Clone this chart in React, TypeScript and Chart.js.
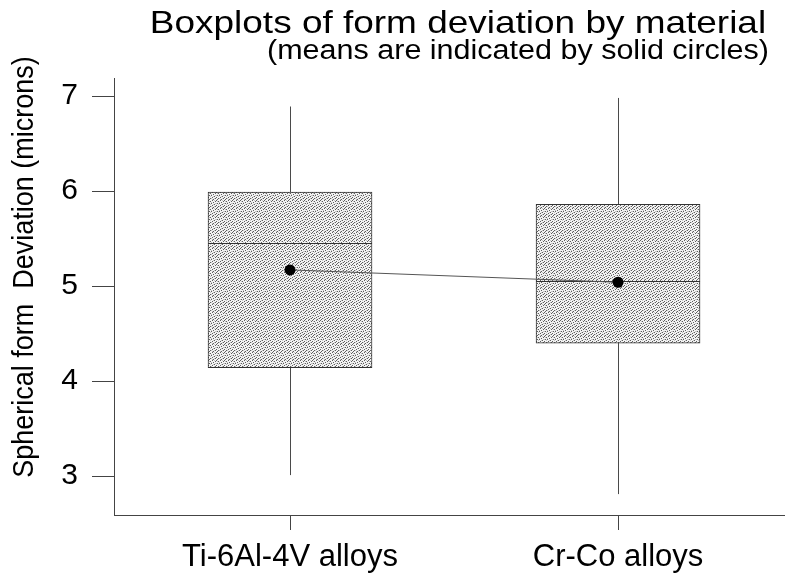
import React, { useEffect, useRef } from "react";
import { Chart, registerables } from "chart.js";

Chart.register(...registerables);

// ---- data ----
const categories = ["Ti-6Al-4V alloys", "Cr-Co alloys"];
const whiskerLow = [3.01, 2.81];
const q1 = [4.14, 4.4];
const median = [5.45, 5.05];
const q3 = [5.99, 5.86];
const whiskerHigh = [6.89, 6.98];
const means = [5.17, 5.04];
const yTicks = [3, 4, 5, 6, 7];

const titleText = "Boxplots of form deviation by material";
const subtitleText = "(means are indicated by solid circles)";
const yTitleText = "Spherical form  Deviation (microns)";

const FONT = "'Liberation Sans', Arial, sans-serif";
const AXIS = "#444444";

function makeStipple(): CanvasPattern | string {
  const n = 8;
  const c = document.createElement("canvas");
  c.width = n;
  c.height = n;
  const g = c.getContext("2d");
  if (!g) return "#d9d9d9";
  g.fillStyle = "#f4f4f4";
  g.fillRect(0, 0, n, n);
  const dark = [
    [0, 0], [4, 0], [2, 1], [7, 1], [5, 2], [1, 3], [3, 3], [6, 4],
    [0, 5], [4, 5], [2, 6], [7, 6], [5, 7], [1, 7],
  ];
  const light = [[6, 0], [1, 1], [3, 2], [0, 3], [5, 4], [2, 4], [7, 3], [3, 6], [6, 6], [4, 7]];
  g.fillStyle = "#5e5e5e";
  dark.forEach(([x, y]) => g.fillRect(x, y, 1, 1));
  g.fillStyle = "#c4c4c4";
  light.forEach(([x, y]) => g.fillRect(x, y, 1, 1));
  return g.createPattern(c, "repeat") || "#d9d9d9";
}

const boxParts = {
  id: "boxParts",
  beforeDatasetsDraw(chart: any) {
    const ctx = chart.ctx;
    const xs = chart.scales.x;
    const ys = chart.scales.y;
    ctx.save();
    ctx.strokeStyle = "#4a4a4a";
    ctx.lineWidth = 1;
    categories.forEach((_, i) => {
      const x = Math.round(xs.getPixelForValue(i + 1)) + 0.5;
      ctx.beginPath();
      ctx.moveTo(x, ys.getPixelForValue(q3[i]));
      ctx.lineTo(x, ys.getPixelForValue(whiskerHigh[i]));
      ctx.moveTo(x, ys.getPixelForValue(q1[i]));
      ctx.lineTo(x, ys.getPixelForValue(whiskerLow[i]));
      ctx.stroke();
    });
    ctx.restore();
  },
  afterDatasetDraw(chart: any, args: any) {
    if (args.index !== 0) return;
    const ctx = chart.ctx;
    const ys = chart.scales.y;
    const meta = chart.getDatasetMeta(0);
    ctx.save();
    ctx.strokeStyle = "#333333";
    ctx.lineWidth = 1;
    meta.data.forEach((bar: any, i: number) => {
      const y = Math.round(ys.getPixelForValue(median[i])) + 0.5;
      ctx.beginPath();
      ctx.moveTo(bar.x - bar.width / 2, y);
      ctx.lineTo(bar.x + bar.width / 2, y);
      ctx.stroke();
    });
    ctx.restore();
  },
};

function stretchedText(ctx: CanvasRenderingContext2D, text: string, cx: number, y: number, sx: number) {
  ctx.save();
  ctx.translate(cx, y);
  ctx.scale(sx, 1);
  ctx.fillText(text, 0, 0);
  ctx.restore();
}

const texts = {
  id: "texts",
  afterDraw(chart: any) {
    const ctx = chart.ctx;
    ctx.save();
    ctx.fillStyle = "#000000";
    ctx.textAlign = "center";
    ctx.textBaseline = "alphabetic";
    ctx.font = `32px ${FONT}`;
    stretchedText(ctx, titleText, 458, 33, 1.155);
    ctx.font = `27px ${FONT}`;
    stretchedText(ctx, subtitleText, 518, 59, 1.13);
    ctx.translate(25, 267);
    ctx.rotate(-Math.PI / 2);
    ctx.scale(1, 1.12);
    ctx.textBaseline = "middle";
    ctx.font = `27px ${FONT}`;
    ctx.fillText(yTitleText, 0, 0);
    ctx.restore();
  },
};

export default function App() {
  const ref = useRef<HTMLCanvasElement | null>(null);

  useEffect(() => {
    if (!ref.current) return;
    const stipple = makeStipple();
    const chart = new Chart(ref.current, {
      type: "bar",
      data: {
        datasets: [
          {
            type: "bar",
            data: categories.map((_, i) => ({ x: i + 1, y: [q1[i], q3[i]] })) as any,
            backgroundColor: stipple as any,
            borderColor: "#333333",
            borderWidth: 1,
            borderSkipped: false,
            barThickness: 164,
            order: 2,
          } as any,
          {
            type: "line",
            data: categories.map((_, i) => ({ x: i + 1, y: means[i] })) as any,
            borderColor: "#555555",
            borderWidth: 1,
            pointRadius: 5.5,
            pointHoverRadius: 5.5,
            pointHitRadius: 0,
            pointBackgroundColor: "#000000",
            pointBorderColor: "#000000",
            pointBorderWidth: 0,
            order: 1,
          } as any,
        ],
      },
      options: {
        responsive: false,
        animation: false,
        layout: { autoPadding: false, padding: { top: 78, left: 0, right: 0, bottom: 0 } },
        plugins: {
          legend: { display: false },
          tooltip: { enabled: false },
          title: { display: false },
        },
        scales: {
          x: {
            type: "linear",
            min: 0.4634,
            max: 2.509,
            offset: false,
            afterBuildTicks: (s: any) => {
              s.ticks = categories.map((_, i) => ({ value: i + 1 }));
            },
            afterFit: (s: any) => {
              s.height = 60;
              s.paddingLeft = 0;
              s.paddingRight = 0;
            },
            ticks: {
              autoSkip: false,
              maxRotation: 0,
              padding: 9,
              color: "#000000",
              font: { family: FONT, size: 31 },
              callback: (v: any) => categories[Math.round(Number(v)) - 1] ?? "",
            },
            grid: {
              offset: false,
              drawOnChartArea: false,
              drawTicks: true,
              tickLength: 15,
              color: AXIS,
              tickColor: AXIS,
            },
            border: { display: true, color: AXIS, width: 1 },
          },
          y: {
            type: "linear",
            min: 2.59,
            max: 7.19,
            afterBuildTicks: (s: any) => {
              s.ticks = yTicks.map((v) => ({ value: v }));
            },
            afterFit: (s: any) => {
              s.width = 114;
              s.paddingTop = 0;
              s.paddingBottom = 0;
            },
            ticks: {
              padding: 14,
              color: "#000000",
              font: { family: FONT, size: 30 },
              callback: (v: any) => String(v),
            },
            grid: {
              drawOnChartArea: false,
              drawTicks: true,
              tickLength: 22,
              color: AXIS,
              tickColor: AXIS,
            },
            border: { display: true, color: AXIS, width: 1 },
          },
        },
      } as any,
      plugins: [boxParts, texts],
    });
    return () => chart.destroy();
  }, []);

  return (
    <div style={{ position: "fixed", left: 0, top: 0, width: 785, height: 575, background: "#ffffff" }}>
      <canvas ref={ref} width={785} height={575} />
    </div>
  );
}
